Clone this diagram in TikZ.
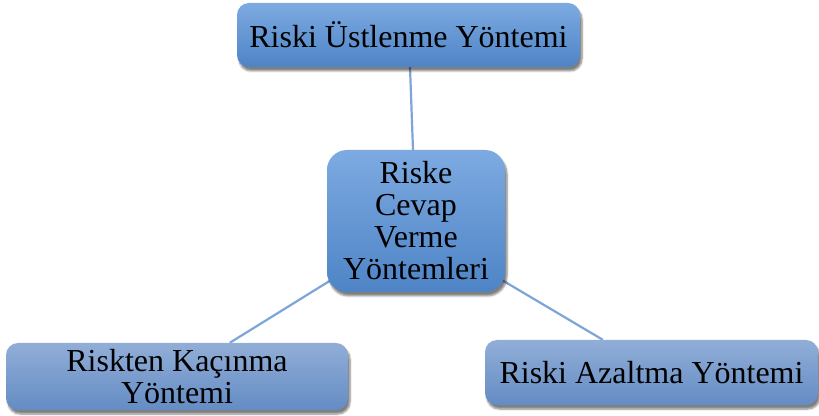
\documentclass[tikz,border=0pt]{standalone}
\usepackage{fontspec}
\setmainfont{Liberation Serif}
\usetikzlibrary{shadows.blur,backgrounds,calc}
\definecolor{btop}{RGB}{125,170,225}
\definecolor{bbot}{RGB}{78,132,198}
\definecolor{gtop}{RGB}{145,174,215}
\definecolor{gbot}{RGB}{100,140,196}
\definecolor{linec}{RGB}{125,165,215}
\tikzset{
  box/.style={rectangle, rounded corners=12pt, top color=btop, bottom color=bbot,
    draw=none, inner sep=0pt, align=center,
    blur shadow={shadow xshift=2pt, shadow yshift=-4pt, shadow blur steps=6, shadow opacity=50},
    font=\fontsize{32}{32}\selectfont},
  gbox/.style={box, top color=gtop, bottom color=gbot},
  conn/.style={draw=linec, line width=2.2pt}
}
\begin{document}
\begin{tikzpicture}[x=1pt,y=1pt]
\useasboundingbox (0,0) rectangle (819,415);
\node[box, minimum width=343pt, minimum height=64pt] (top) at (408.5,380) {Riski Üstlenme Yöntemi};
\node[box, rounded corners=20pt, minimum width=178pt, minimum height=142pt] (cen) at (416,194) {Riske\\Cevap\\Verme\\Yöntemleri};
\node[gbox, minimum width=342pt, minimum height=67pt] (bl) at (177,38.5) {Riskten Kaçınma\\Yöntemi};
\node[gbox, minimum width=333pt, minimum height=65pt] (br) at (651.5,42.5) {Riski Azaltma Yöntemi};
\begin{pgfonlayer}{background}
\draw[conn] ([xshift=1.5pt]top.south) -- ([xshift=-3pt]cen.north);
\draw[conn] ($(cen.south west)+(4,12)$) -- ($(bl.north west)+(224,0)$);
\draw[conn] ($(cen.south east)+(-3,12)$) -- ($(br.north west)+(118,0)$);
\end{pgfonlayer}
\end{tikzpicture}
\end{document}
